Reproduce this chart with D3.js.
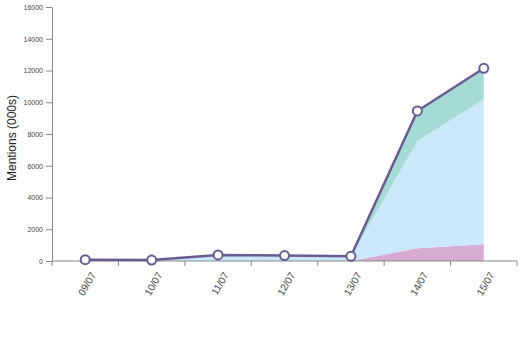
<!DOCTYPE html>
<html><head><meta charset="utf-8">
<script src="https://cdn.jsdelivr.net/npm/d3@7"></script>
<style>body{margin:0;background:#fff;font-family:"Liberation Sans",Arial,sans-serif}</style>
</head><body><svg id="c" width="532" height="360"></svg>
<script>
const dates = ["09/07","10/07","11/07","12/07","13/07","14/07","15/07"];
const pink  = [0, 0, 0, 0, 0, 800, 1050];
const blue  = [60, 50, 330, 300, 270, 6760, 9140];
const teal  = [0, 0, 20, 20, 20, 1890, 1950];
const total = [80, 60, 380, 340, 300, 9450, 12140];
const yTicks = [0,2000,4000,6000,8000,10000,12000,14000,16000];

const svg = d3.select("#c");
const L=52, R=517, T=7, B=261;
const x = d3.scaleBand().domain(dates).range([L,R]);
const y = d3.scaleLinear().domain([0,16000]).range([B,T]);
const cx = d => x(d)+x.bandwidth()/2;

const rows = dates.map((d,i)=>({date:d,pink:pink[i],blue:blue[i],teal:teal[i]}));
const stack = d3.stack().keys(["pink","blue","teal"])(rows);
const colors = {pink:"#d8acd2", blue:"#cbe8fb", teal:"#a6dad4"};
const area = d3.area().x(d=>cx(d.data.date)).y0(d=>y(d[0])).y1(d=>y(d[1]));
svg.append("g").selectAll("path").data(stack).join("path")
  .attr("d",area).attr("fill",d=>colors[d.key]);

// axes
const gy = svg.append("g").attr("transform",`translate(${L},0)`)
  .call(d3.axisLeft(y).tickValues(yTicks).tickFormat(d3.format("d")).tickSize(6).tickSizeOuter(0).tickPadding(3));
gy.selectAll("path,line").attr("stroke","#888");
gy.selectAll("text").attr("font-size",7).attr("fill","#444").attr("font-family","Liberation Sans, Arial");

const gx = svg.append("g").attr("transform",`translate(0,${B})`);
gx.append("line").attr("x1",L).attr("x2",R).attr("stroke","#888");
const edges = dates.map(d=>x(d)).concat([R]);
gx.selectAll("line.t").data(edges).join("line").attr("class","t")
  .attr("x1",d=>d).attr("x2",d=>d).attr("y1",0).attr("y2",5).attr("stroke","#888");
gx.selectAll("text").data(dates).join("text")
  .attr("transform",d=>`translate(${cx(d)+8},12) rotate(-60)`)
  .attr("text-anchor","end").attr("dy","0.35em")
  .attr("font-size",10).attr("fill","#444").text(d=>d);

svg.append("text").attr("transform","translate(16,138) rotate(-90)")
  .attr("text-anchor","middle").attr("font-size",12).attr("fill","#222")
  .text("Mentions (000s)");

// line
const line = d3.line().x((d,i)=>cx(dates[i])).y(d=>y(d));
svg.append("path").datum(total).attr("d",line).attr("fill","none")
  .attr("stroke","#6a5a92").attr("stroke-width",2.5);
svg.append("g").selectAll("circle").data(total).join("circle")
  .attr("cx",(d,i)=>cx(dates[i])).attr("cy",d=>y(d)).attr("r",4.5)
  .attr("fill","#fff").attr("stroke","#6a5a92").attr("stroke-width",2);
</script></body></html>
